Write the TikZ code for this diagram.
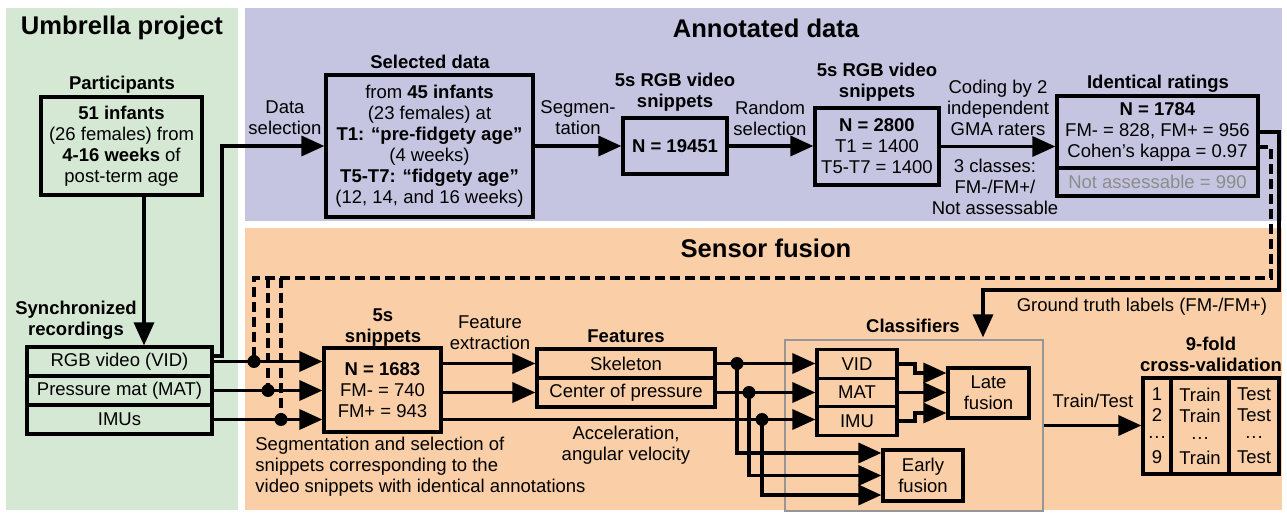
\documentclass[tikz,border=0pt]{standalone}
\usepackage{fontspec}
\setmainfont{Liberation Sans}
\usetikzlibrary{arrows.meta,calc}

\definecolor{umbrellagreen}{RGB}{212,232,212}
\definecolor{annotpurple}{RGB}{197,197,225}
\definecolor{fusionorange}{RGB}{250,206,166}
\definecolor{clfgray}{RGB}{150,150,150}
\definecolor{nagray}{RGB}{140,140,140}

\tikzset{
  txt/.style={inner sep=0pt, align=center, font=\fontsize{9.25}{10.5}\selectfont},
  hdr/.style={txt, font=\fontsize{9.25}{10.5}\selectfont\bfseries},
  ttl/.style={inner sep=0pt, font=\fontsize{12.8}{14}\selectfont\bfseries},
  box/.style={txt, draw, line width=1.7pt, outer sep=0pt},
  conn/.style={line width=1.7pt, shorten >=0.8pt, -{Triangle[length=11.5pt,width=10pt]}},
  lblwire/.style={line width=1.7pt, dash pattern=on 5pt off 2.5pt},
  jdot/.style={circle, fill, inner sep=0pt, minimum size=6.5pt},
}

\begin{document}
\begin{tikzpicture}[x=0.5pt,y=-0.5pt]
\useasboundingbox (0,0) rectangle (1287,513);

 % Panels
\fill[umbrellagreen] (6,8) rectangle (238,510);
\fill[annotpurple] (245,8) rectangle (1282,221);
\fill[fusionorange] (245,228) rectangle (1282,510);

\node[ttl] (umbrella)  at (122,28)  {Umbrella project};
\node[ttl] (annotated) at (766,28)  {Annotated data};
\node[ttl] (fusion)    at (766,248) {Sensor fusion};

 % Umbrella project
\node[hdr] (parthdr) at (122,85) {Participants};
\node[box, minimum width=80.5pt, minimum height=49pt] (part) at (121.5,146)
  {\textbf{51 infants}\\(26 females) from\\\textbf{4-16 weeks} of\\post-term age};
\node[hdr] (rechdr) at (76,320) {Synchronized\\recordings};
\node[box, minimum width=92.5pt, minimum height=14.5pt] (rgb) at (119.5,361.5) {RGB video (VID)};
\node[box, minimum width=92.5pt, minimum height=14.5pt, anchor=north] (mat) at (rgb.south) {Pressure mat (MAT)};
\node[box, minimum width=92.5pt, minimum height=14.5pt, anchor=north] (imu) at (mat.south) {IMUs};

 % Annotated data
\node[hdr] (selhdr) at (430,62) {Selected data};
\node[box, minimum width=103.5pt, minimum height=71pt] (seldata) at (429.5,146)
  {from \textbf{45 infants}\\(23 females) at\\\textbf{T1: “pre-fidgety age”}\\(4 weeks)\\\textbf{T5-T7: “fidgety age”}\\(12, 14, and 16 weeks)};
\node[txt] (sellbl) at (285,118) {Data\\selection};

\node[hdr] (allhdr) at (675,92) {5s RGB video\\snippets};
\node[box, minimum width=52pt, minimum height=28pt] (allsnip) at (675,146) {\textbf{N = 19451}};
\node[txt] (seglbl) at (578,118) {Segmen-\\tation};

\node[hdr] (randhdr) at (877,82) {5s RGB video\\snippets};
\node[box, minimum width=62pt, minimum height=38.5pt] (randsnip) at (877,146.5)
  {\textbf{N = 2800}\\T1 = 1400\\T5-T7 = 1400};
\node[txt] (randlbl) at (770,118) {Random\\selection};

\node[txt] (codelbl)  at (998,108) {Coding by 2\\independent\\GMA raters};
\node[txt] (classlbl) at (995,187) {3 classes:\\FM-/FM+/\\Not assessable};

\node[hdr] (identhdr) at (1158,84) {Identical ratings};
\node[box, minimum width=100.5pt, minimum height=36pt] (ident) at (1157.5,132)
  {\textbf{N = 1784}\\FM- = 828, FM+ = 956\\Cohen’s kappa = 0.97};
\node[box, minimum width=100.5pt, minimum height=14pt, text=nagray, anchor=north] (notass) at (ident.south)
  {Not assessable = 990};

 % Sensor fusion
\node[hdr] (sniphdr) at (383,328) {5s\\snippets};
\node[box, minimum width=58.5pt, minimum height=42pt] (snip) at (382.5,390)
  {\textbf{N = 1683}\\FM- = 740\\FM+ = 943};
\node[txt, align=left, anchor=west] (sniplbl) at (255,467)
  {Segmentation and selection of\\snippets corresponding to the\\video snippets with identical annotations};

\node[txt] (extrlbl) at (490,333) {Feature\\extraction};
\node[hdr] (feathdr) at (626,336) {Features};
\node[box, minimum width=89pt, minimum height=14.5pt] (skel) at (626,363.5) {Skeleton};
\node[box, minimum width=89pt, minimum height=14.5pt, anchor=north] (cop) at (skel.south) {Center of pressure};
\node[txt] (acclbl) at (626,445) {Acceleration,\\angular velocity};

 % Classifiers
\node[draw=clfgray, line width=1pt, inner sep=0pt, minimum width=129pt, minimum height=85.5pt] (clf) at (914,425.5) {};
\node[hdr] (clfhdr) at (913,326) {Classifiers};
\node[box, minimum width=40pt, minimum height=14.25pt] (vidc) at (857,364) {VID};
\node[box, minimum width=40pt, minimum height=14.25pt, anchor=north] (matc) at (vidc.south) {MAT};
\node[box, minimum width=40pt, minimum height=14.25pt, anchor=north] (imuc) at (matc.south) {IMU};
\node[box, minimum width=40.5pt, minimum height=25pt] (late) at (988.5,393) {Late\\fusion};
\node[box, minimum width=40pt, minimum height=25.5pt] (early) at (923,475.5) {Early\\fusion};

\node[txt] (gtlbl) at (1142,307) {Ground truth labels (FM-/FM+)};
\node[txt] (ttlbl) at (1093,401) {Train/Test};

 % Cross-validation
\node[hdr] (foldhdr) at (1211,354) {9-fold\\cross-validation};
\node[box, minimum width=14pt, minimum height=48pt] (foldno) at (1157,426) {1\\2\\···\\9};
\node[box, minimum width=29pt, minimum height=48pt, anchor=west] (foldtrain) at (foldno.east) {Train\\Train\\···\\Train};
\node[box, minimum width=25pt, minimum height=48pt, anchor=west] (foldtest) at (foldtrain.east) {Test\\Test\\···\\Test};

 % Connect nodes
\draw[conn] ([xshift=11.25pt]part.south) -- ([xshift=11.25pt]part.south |- rgb.north);
\draw[conn] ([yshift=2.75pt]rgb.east) -- ++(10,0) |- (seldata.west);
\draw[conn] (seldata.east) -- (allsnip.west);
\draw[conn] (allsnip.east) -- (allsnip.east -| randsnip.west);
\draw[conn] (randsnip.east) -- (randsnip.east -| ident.west);

\coordinate (gtbend) at (983,290);
\draw[conn] (ident.east) -- ++(21,0) |- (gtbend) -- (gtbend |- clf.north);

\path (rgb.east) ++(42,0) coordinate (d1);
\path (mat.east) ++(56,0) coordinate (d2);
\path (imu.east) ++(69,0) coordinate (d3);
\coordinate (dtop) at (254,278);
\draw[lblwire] ([yshift=-7.5pt]ident.east) -- ++(13,0) |- (dtop) -- (d1);
\draw[lblwire] (d2 |- dtop) -- (d2);
\draw[lblwire] (d3 |- dtop) -- (d3);

\draw[conn] (rgb.east) -- (rgb.east -| snip.west);
\draw[conn] (mat.east) -- (mat.east -| snip.west);
\draw[conn] (imu.east) -- (imu.east -| snip.west);

\draw[conn] (skel.west -| snip.east) -- (skel.west);
\draw[conn] (cop.west -| snip.east) -- (cop.west);
\draw[conn] (imu.east -| snip.east) -- (imu.east -| imuc.west);

\draw[conn] (skel.east) -- (skel.east -| vidc.west);
\draw[conn] (cop.east) -- (cop.east -| matc.west);

\path (skel.east) ++(22,0) coordinate (f1);
\path (cop.east) ++(34,0) coordinate (f2);
\path (imu.east -| skel.east) ++(47,0) coordinate (f3);
\draw[conn] (f1) |- ([yshift=11.25pt]early.west);
\draw[conn] (f2) |- (early.west);
\draw[conn] (f3) |- ([yshift=-9.75pt]early.west);

\draw[conn] (vidc.east) -- ++(18,0) |- ([yshift=10pt]late.west);
\draw[conn] (matc.east) -- (matc.east -| late.west);
\draw[conn] (imuc.east) -- ++(18,0) |- ([yshift=-10pt]late.west);

\draw[conn] (clf.east) -- (clf.east -| foldno.west);

\foreach \j in {d1,d2,d3,f1,f2,f3}
  \node[jdot] at (\j) {};

\end{tikzpicture}
\end{document}
